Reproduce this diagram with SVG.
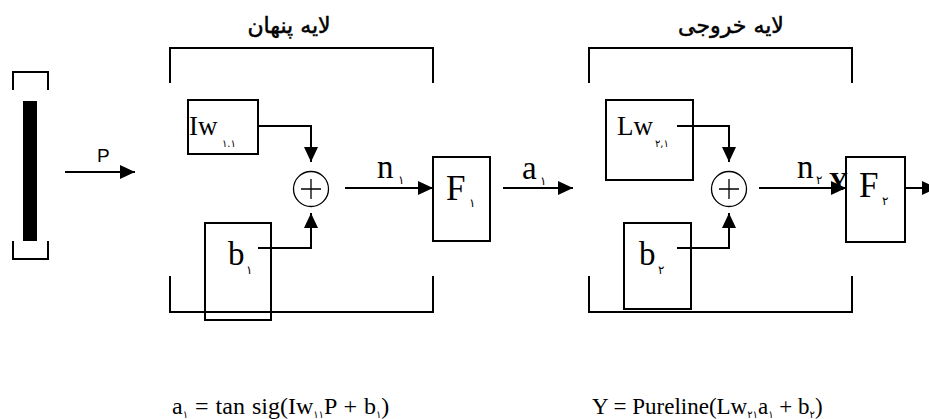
<svg xmlns="http://www.w3.org/2000/svg" width="929" height="419" viewBox="0 0 929 419">
<defs>
<style>
.ln{fill:none;stroke:#000;stroke-width:2}
.box{fill:#fff;stroke:#000;stroke-width:2}
.thin{fill:none;stroke:#000;stroke-width:1.3}
.m{font-family:"Liberation Serif","DejaVu Serif",serif;fill:#000}
.sub{font-family:"DejaVu Sans","Noto Sans",sans-serif;fill:#000}
.fa{font-family:"DejaVu Sans","Noto Sans",sans-serif;fill:#000;stroke:#000;stroke-width:0.5;font-size:22px;text-anchor:middle}
</style>
<marker id="ah" markerUnits="userSpaceOnUse" markerWidth="16" markerHeight="14" refX="15" refY="7" orient="auto">
<path d="M0,0 L15,7 L0,14 z" fill="#000"/>
</marker>
</defs>
<rect width="929" height="419" fill="#fff"/>

<g id="input">
<path class="ln" d="M13,90 V72 H48 V90"/>
<rect x="23" y="101" width="14" height="140" fill="#000"/>
<path class="ln" d="M13,241 V259 H48 V241"/>
</g>

<g id="hidden-layer">
<path class="ln" d="M170,83 V48 H433 V83"/>
<text class="fa" x="289" y="33">لایه پنهان</text>
</g>

<g id="output-layer">
<path class="ln" d="M589,83 V48 H852 V83"/>
<text class="fa" x="731" y="33">لایه خروجی</text>
</g>

<g id="iw">
<rect class="box" x="188" y="100" width="70" height="54"/>
<text class="m" x="189" y="135" font-size="27">Iw</text>
<text class="sub" x="222" y="147" font-size="10">۱.۱</text>
</g>

<g id="b1">
<rect class="box" x="205" y="223" width="66" height="97"/>
<text class="m" x="228" y="265" font-size="33">b</text>
<text class="sub" x="246" y="274" font-size="12">۱</text>
</g>

<g id="sum1">
<circle class="thin" cx="311" cy="189" r="17.5" fill="#fff"/>
<path class="thin" d="M301,189 H321 M311,179 V199"/>
</g>

<g id="f1">
<rect class="box" x="433" y="157" width="57" height="84"/>
<text class="m" x="446" y="200" font-size="35">F</text>
<text class="sub" x="469" y="207" font-size="12">۱</text>
</g>

<g id="lw">
<rect class="box" x="606" y="100" width="87" height="80"/>
<text class="m" x="617" y="135" font-size="27">Lw</text>
<text class="sub" x="655" y="147" font-size="10">۲,۱</text>
</g>

<g id="b2">
<rect class="box" x="624" y="223" width="67" height="86"/>
<text class="m" x="639" y="265" font-size="33">b</text>
<text class="sub" x="658" y="274" font-size="12">۲</text>
</g>

<g id="sum2">
<circle class="thin" cx="729" cy="189" r="17.5" fill="#fff"/>
<path class="thin" d="M719,189 H739 M729,179 V199"/>
</g>

<g id="f2">
<rect class="box" x="846" y="157" width="59" height="85"/>
<text class="m" x="859" y="197" font-size="35">F</text>
<text class="sub" x="882" y="205" font-size="12">۲</text>
</g>

<g id="bottom-brackets">
<path class="ln" d="M170,276 V312 H433 V276"/>
<path class="ln" d="M589,276 V312 H852 V276"/>
</g>

<g id="connectors">
<path class="ln" d="M65,172 H135" marker-end="url(#ah)"/>
<path class="ln" d="M258,126 H311 V162" marker-end="url(#ah)"/>
<path class="ln" d="M258,248 H311 V213" marker-end="url(#ah)"/>
<path class="ln" d="M345,188 H433" marker-end="url(#ah)"/>
<path class="ln" d="M503,188 H573" marker-end="url(#ah)"/>
<path class="ln" d="M677,126 H729 V162" marker-end="url(#ah)"/>
<path class="ln" d="M677,248 H729 V213" marker-end="url(#ah)"/>
<path class="ln" d="M759,188 H846" marker-end="url(#ah)"/>
<path class="ln" d="M905,188 H937" marker-end="url(#ah)"/>
</g>

<g id="labels">
<text x="97" y="162" font-family="Liberation Sans, Arial, sans-serif" font-size="19">P</text>
<text class="m" x="377" y="178" font-size="33">n</text>
<text class="sub" x="398" y="184" font-size="12">۱</text>
<text class="m" x="522" y="179" font-size="33">a</text>
<text class="sub" x="540" y="185" font-size="12">۱</text>
<text class="m" x="797" y="178" font-size="33">n</text>
<text class="sub" x="816" y="184" font-size="12">۲</text>
<text class="m" x="829" y="190" font-size="26" font-weight="bold">Y</text>
</g>

<g id="formulas">
<text class="m" x="172" y="414" font-size="24" word-spacing="1">a<tspan class="sub" font-size="10" dy="4">۱</tspan><tspan dy="-4"> = tan sig(Iw</tspan><tspan class="sub" font-size="10" dy="4">۱۱</tspan><tspan dy="-4">P + b</tspan><tspan class="sub" font-size="10" dy="4">۱</tspan><tspan dy="-4">)</tspan></text>
<text class="m" x="592" y="414" font-size="23">Y = Pureline(Lw<tspan class="sub" font-size="10" dy="4">۲۱</tspan><tspan dy="-4">a</tspan><tspan class="sub" font-size="10" dy="4">۱</tspan><tspan dy="-4"> + b</tspan><tspan class="sub" font-size="10" dy="4">۲</tspan><tspan dy="-4">)</tspan></text>
</g>
</svg>
